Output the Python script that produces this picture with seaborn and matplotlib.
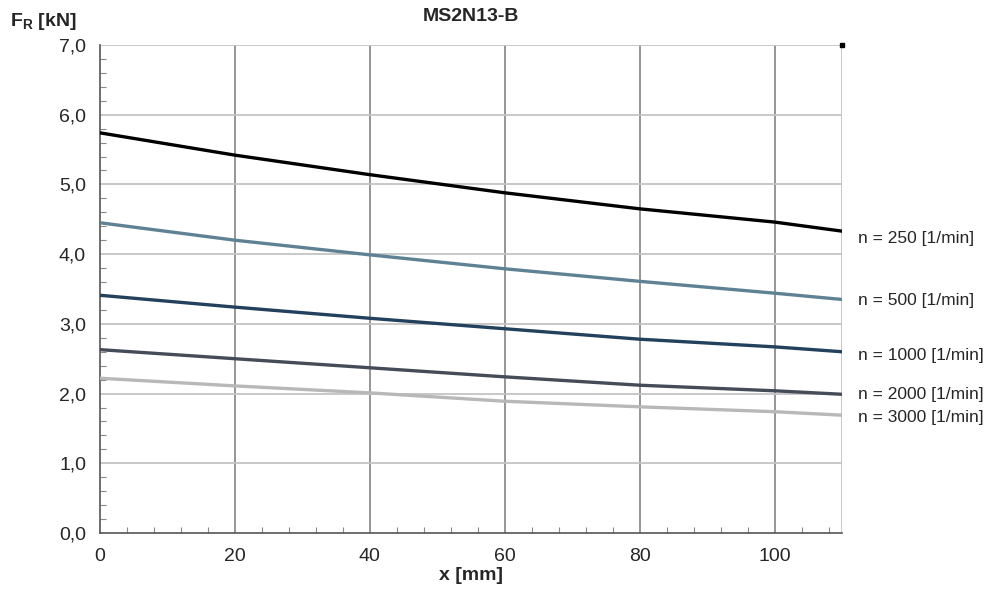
import numpy as np
import pandas as pd
import matplotlib
matplotlib.use("Agg")
import matplotlib.pyplot as plt
import seaborn as sns
from matplotlib.ticker import MultipleLocator, FuncFormatter

sns.set_style("white")
plt.rcParams['font.family'] = ['Liberation Sans', 'DejaVu Sans']

# datos
x_mm = [0, 20, 40, 60, 80, 100, 110]
f_250 = [5.74, 5.42, 5.14, 4.88, 4.65, 4.46, 4.33]
f_500 = [4.45, 4.20, 3.99, 3.79, 3.61, 3.44, 3.35]
f_1000 = [3.41, 3.24, 3.08, 2.93, 2.78, 2.67, 2.60]
f_2000 = [2.63, 2.50, 2.37, 2.24, 2.12, 2.04, 1.99]
f_3000 = [2.22, 2.11, 2.01, 1.89, 1.81, 1.74, 1.69]
etiquetas = ["n = 250 [1/min]", "n = 500 [1/min]", "n = 1000 [1/min]",
             "n = 2000 [1/min]", "n = 3000 [1/min]"]
etiqueta_y = [4.23, 3.33, 2.54, 1.99, 1.65]
colores = ["#000000", "#5e8294", "#23405c", "#454c58", "#b8b8b8"]

series = [f_250, f_500, f_1000, f_2000, f_3000]
df = pd.DataFrame({
    "x": x_mm * len(series),
    "F": sum(series, []),
    "n": [e for e in etiquetas for _ in x_mm],
})

fig = plt.figure(figsize=(10.03, 5.91), dpi=100)
ax = fig.add_axes([100/1003, 1-533/591, 742/1003, 488/591])

# grilla
for v in [20, 40, 60, 80, 100]:
    ax.axvline(v, color="#8c8c8c", lw=1.3, zorder=0)
ax.axvline(110, color="#c4c4c4", lw=1.3, zorder=0)
for h in [1, 2, 3, 4, 5, 6, 7]:
    ax.axhline(h, color="#c4c4c4", lw=1.3, zorder=0)

sns.lineplot(data=df, x="x", y="F", hue="n", palette=colores, lw=2.4,
             legend=False, ax=ax, zorder=3)

ax.plot([110], [7.0], marker="s", color="black", ms=2.5, clip_on=False)

for e, yy in zip(etiquetas, etiqueta_y):
    ax.text(112.3, yy, e, fontsize=12.5, va="center", ha="left")

ax.set_xlim(0, 110)
ax.set_ylim(0, 7)
ax.xaxis.set_major_locator(MultipleLocator(20))
ax.xaxis.set_minor_locator(MultipleLocator(4))
ax.yaxis.set_major_locator(MultipleLocator(1))
ax.yaxis.set_minor_locator(MultipleLocator(0.2))
ax.yaxis.set_major_formatter(FuncFormatter(lambda v, p: f"{v:.1f}".replace(".", ",")))
ax.tick_params(which="major", direction="out", length=5, color="#666666",
               labelsize=14, width=1)
ax.tick_params(which="minor", direction="in", length=4, color="#888888", width=0.8)
ax.tick_params(axis="x", which="minor", bottom=True)
ax.tick_params(axis="y", which="minor", left=True)
ax.tick_params(axis="x", pad=6)
ax.tick_params(axis="y", pad=5)

for s in ["top", "right"]:
    ax.spines[s].set_visible(False)
for s in ["left", "bottom"]:
    ax.spines[s].set_color("#555555")
    ax.spines[s].set_linewidth(1.2)

ax.set_xlabel("x [mm]", fontsize=14, fontweight="bold", labelpad=1)
ax.set_ylabel("")
fig.text(10/1003, 1-22/591, r"F$_\mathregular{R}$ [kN]", fontsize=14,
         fontweight="bold", va="center", ha="left")
ax.set_title("MS2N13-B", fontsize=14, fontweight="bold", pad=17)

plt.savefig("out.png", dpi=100)
